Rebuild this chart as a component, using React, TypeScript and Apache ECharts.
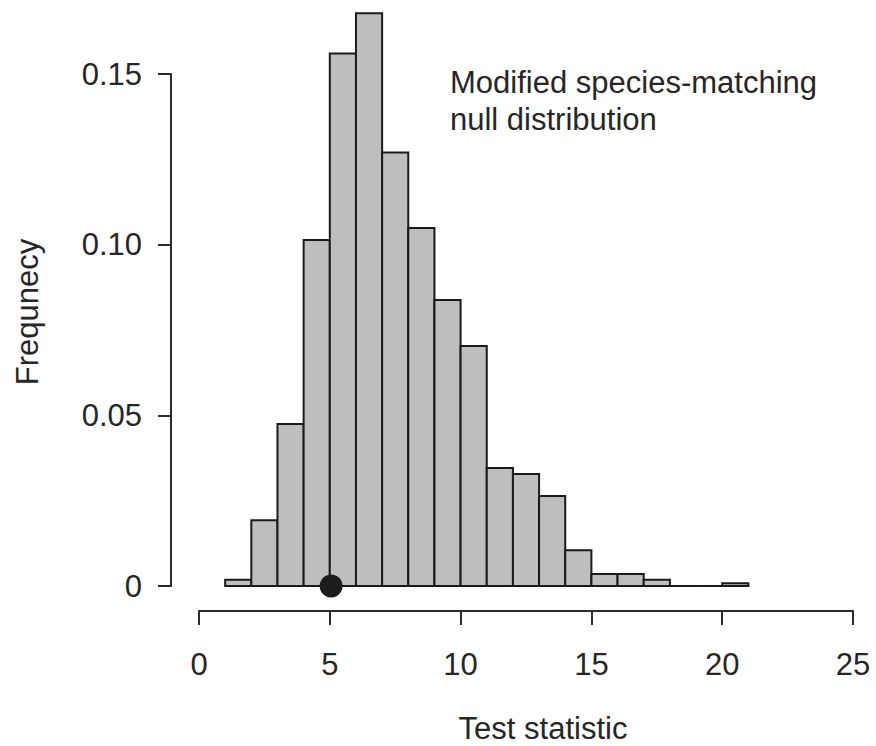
import React, { useEffect, useRef } from "react";
import * as echarts from "echarts";

// Histogram bins (test statistic) and relative frequencies
const binStarts = [1, 2, 3, 4, 5, 6, 7, 8, 9, 10, 11, 12, 13, 14, 15, 16, 17, 18, 19, 20];
const binEnds = [2, 3, 4, 5, 6, 7, 8, 9, 10, 11, 12, 13, 14, 15, 16, 17, 18, 19, 20, 21];
const frequencies = [
  0.0018, 0.0193, 0.0475, 0.1014, 0.156, 0.1678, 0.127, 0.1049, 0.0838, 0.0703,
  0.0346, 0.0328, 0.0264, 0.0105, 0.0035, 0.0035, 0.0018, 0, 0, 0.0008,
];
const observedValue = [5.05];
const yTicks = [0, 0.05, 0.1, 0.15];
const annotation = ["Modified species-matching", "null distribution"];

const FONT = "'Liberation Sans', Arial, Helvetica, sans-serif";
const TEXT_COLOR = "#262626";
const LINE_COLOR = "#2a2a2a";

export default function App() {
  const ref = useRef<HTMLDivElement>(null);

  useEffect(() => {
    if (!ref.current) return;
    const chart = echarts.init(ref.current, null, { renderer: "svg" });

    const baseline = 586; // pixel y of 0
    const pxPerUnit = 3413;
    const yMax = 0.17;
    const gridTop = baseline - yMax * pxPerUnit;
    const gridBottom = 746 - baseline;

    const histData = binStarts.map((s, i) => [s, binEnds[i], frequencies[i]]);

    const option: any = {
      animation: false,
      backgroundColor: "#ffffff",
      grid: [
        { left: 199, right: 23, top: gridTop, bottom: gridBottom, containLabel: false },
        { left: 171, width: 10, top: baseline - 0.15 * pxPerUnit, bottom: gridBottom, containLabel: false },
      ],
      xAxis: [
        {
          type: "value",
          gridIndex: 0,
          min: 0,
          max: 25,
          interval: 5,
          offset: 25,
          axisLine: { show: true, onZero: false, lineStyle: { color: LINE_COLOR, width: 2 } },
          axisTick: { show: true, length: 14, lineStyle: { color: LINE_COLOR, width: 2 } },
          axisLabel: {
            show: true,
            margin: 38,
            fontSize: 31,
            lineHeight: 31,
            fontFamily: FONT,
            color: TEXT_COLOR,
          },
          splitLine: { show: false },
        },
        { type: "value", gridIndex: 1, show: false, min: 0, max: 1 },
      ],
      yAxis: [
        { type: "value", gridIndex: 0, show: false, min: 0, max: yMax },
        {
          type: "value",
          gridIndex: 1,
          min: 0,
          max: 0.15,
          interval: 0.05,
          position: "left",
          axisLine: { show: true, lineStyle: { color: LINE_COLOR, width: 2 } },
          axisTick: { show: true, length: 13, lineStyle: { color: LINE_COLOR, width: 2 } },
          axisLabel: {
            show: true,
            margin: 29,
            fontSize: 31,
            fontFamily: FONT,
            color: TEXT_COLOR,
            formatter: (v: number) => {
              const t = yTicks.find((y) => Math.abs(y - v) < 1e-9);
              const val = t === undefined ? v : t;
              return val === 0 ? "0" : val.toFixed(2);
            },
          },
          splitLine: { show: false },
        },
      ],
      series: [
        {
          type: "custom",
          xAxisIndex: 0,
          yAxisIndex: 0,
          data: histData,
          encode: { x: [0, 1], y: 2 },
          clip: false,
          renderItem: (params: any, api: any) => {
            const x0 = api.value(0);
            const x1 = api.value(1);
            const y = api.value(2);
            const p0 = api.coord([x0, y]);
            const p1 = api.coord([x1, 0]);
            return {
              type: "rect",
              shape: { x: p0[0], y: p0[1], width: p1[0] - p0[0], height: p1[1] - p0[1] },
              style: { fill: "#bebebe", stroke: "#1a1a1a", lineWidth: 2 },
            };
          },
        },
        {
          type: "scatter",
          xAxisIndex: 0,
          yAxisIndex: 0,
          data: observedValue.map((v) => [v, 0]),
          symbol: "circle",
          symbolSize: 23,
          clip: false,
          itemStyle: { color: "#1c1c1c", opacity: 1 },
          z: 5,
        },
      ],
      graphic: [
        {
          type: "text",
          left: 450,
          top: 64,
          style: {
            text: annotation.join("\n"),
            fontSize: 31,
            lineHeight: 37,
            fontFamily: FONT,
            fill: TEXT_COLOR,
            align: "left",
            verticalAlign: "top",
          },
        },
        {
          type: "text",
          x: 543,
          y: 728,
          style: {
            text: "Test statistic",
            fontSize: 31,
            lineHeight: 31,
            fontFamily: FONT,
            fill: TEXT_COLOR,
            align: "center",
            verticalAlign: "middle",
          },
        },
        {
          type: "text",
          x: 27,
          y: 312,
          rotation: Math.PI / 2,
          style: {
            text: "Frequnecy",
            fontSize: 31,
            fontFamily: FONT,
            fill: TEXT_COLOR,
            align: "center",
            verticalAlign: "middle",
          },
        },
      ],
    };

    chart.setOption(option);
    return () => chart.dispose();
  }, []);

  return (
    <div
      ref={ref}
      style={{ position: "absolute", left: 0, top: 0, width: 876, height: 746, background: "#fff" }}
    />
  );
}
